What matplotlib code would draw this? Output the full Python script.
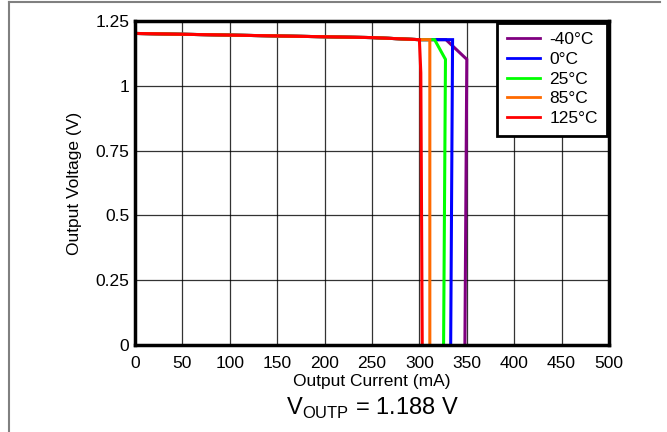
import matplotlib
matplotlib.use("Agg")
import matplotlib.pyplot as plt
from matplotlib.lines import Line2D

plt.rcParams['font.family'] = ['Liberation Sans', 'DejaVu Sans']

labels = ["-40°C", "0°C", "25°C", "85°C", "125°C"]
colors = ["#800080", "#0000ff", "#00ff00", "#ff6a00", "#ff0000"]

x_m40 = [0, 250, 300, 328, 350, 348]
y_m40 = [1.202, 1.186, 1.178, 1.178, 1.102, 0]
x_0 = [0, 250, 300, 335, 333]
y_0 = [1.202, 1.186, 1.178, 1.178, 0]
x_25 = [0, 250, 300, 316, 327.5, 325.5]
y_25 = [1.202, 1.186, 1.178, 1.178, 1.102, 0]
x_85 = [0, 250, 300, 311, 311]
y_85 = [1.202, 1.186, 1.178, 1.178, 0]
x_125 = [0, 250, 300, 301.5, 303]
y_125 = [1.202, 1.186, 1.178, 1.05, 0]

xs = [x_m40, x_0, x_25, x_85, x_125]
ys = [y_m40, y_0, y_25, y_85, y_125]

xticks = [0, 50, 100, 150, 200, 250, 300, 350, 400, 450, 500]
yticks = [0, 0.25, 0.5, 0.75, 1, 1.25]
yticklabels = ["0", "0.25", "0.5", "0.75", "1", "1.25"]

fig = plt.figure(figsize=(6.67, 4.32), dpi=100)
ax = fig.add_axes([135/667, 1 - 345/432, (609-135)/667, (345-21)/432])

for x, y, c, l in zip(xs, ys, colors, labels):
    ax.plot(x, y, color=c, lw=2.2, label=l, zorder=3, solid_joinstyle='miter')

ax.set_xlim(0, 500)
ax.set_ylim(0, 1.25)
ax.set_xticks(xticks)
ax.set_yticks(yticks)
ax.set_yticklabels(yticklabels)
ax.grid(True, color='black', lw=0.9, alpha=0.8)
ax.tick_params(axis='x', length=0, labelsize=12.5, pad=8)
ax.tick_params(axis='y', length=0, labelsize=12.5, pad=4)
for s in ax.spines.values():
    s.set_linewidth(2.5)
    s.set_color('black')
    s.set_zorder(5)

ax.set_xlabel("Output Current (mA)", fontsize=12.5, labelpad=2)
ax.set_ylabel("Output Voltage (V)", fontsize=12.5, labelpad=10)

leg = ax.legend(loc='upper right', bbox_to_anchor=(1.0, 1.0), fontsize=12.5,
                frameon=True, fancybox=False, framealpha=1, edgecolor='black',
                handlelength=1.9, borderpad=0.55, labelspacing=0.26, handletextpad=0.55,
                borderaxespad=0.1)
leg.get_frame().set_linewidth(2)
for h in leg.get_lines():
    h.set_linewidth(2)

fig.text(372/667, 1 - 408/432, r"V$_{\mathregular{OUTP}}$ = 1.188 V", fontsize=17,
         ha='center', va='center')

# figure frame lines
fig.add_artist(Line2D([9/667, 9/667], [0, 1 - 2/432], color='#808080', lw=1.5,
                      transform=fig.transFigure))
fig.add_artist(Line2D([9/667, 660/667], [1 - 2/432, 1 - 2/432], color='#808080', lw=1.5,
                      transform=fig.transFigure))

fig.savefig("out.png", dpi=100)
